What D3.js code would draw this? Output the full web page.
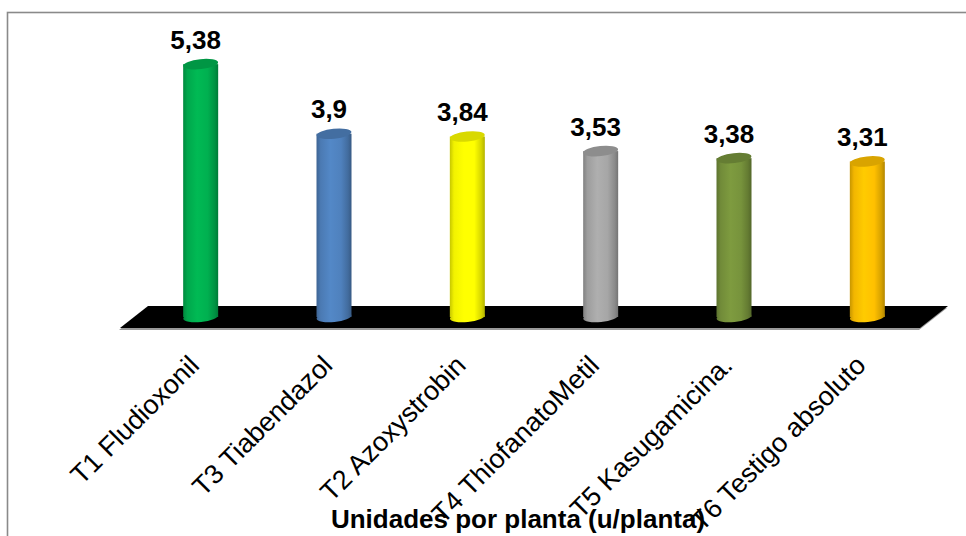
<!DOCTYPE html>
<html>
<head>
<meta charset="utf-8">
<script src="https://cdn.jsdelivr.net/npm/d3@7"></script>
<style>
  html, body { margin: 0; padding: 0; background: #fff; }
  svg { display: block; font-family: "Liberation Sans", Arial, sans-serif; }
</style>
</head>
<body>
<svg id="chart" width="966" height="536"></svg>
<script>
// Treatments and their values (units per plant)
const categories = ["T1 Fludioxonil", "T3 Tiabendazol", "T2 Azoxystrobin",
                    "T4 ThiofanatoMetil", "T5 Kasugamicina.", "T6 Testigo absoluto"];
const values = [5.38, 3.9, 3.84, 3.53, 3.38, 3.31];
const barColors = ["#00b050", "#4f81bd", "#ffff00", "#a6a6a6", "#77933c", "#ffc000"];
const axisTitle = "Unidades por planta (u/planta)";

const svg = d3.select("#chart");
const defs = svg.append("defs");

// Outer chart frame
svg.append("rect")
  .attr("x", 7.5).attr("y", 12.5)
  .attr("width", 1000).attr("height", 600)
  .attr("fill", "#fff")
  .attr("stroke", "#8a8a8a").attr("stroke-width", 1.6);

// Scales
const x = d3.scaleBand().domain(categories).range([134, 934]).padding(0);
const y = d3.scaleLinear().domain([0, 6]).range([317, 35]);
const barW = x.bandwidth() * 0.2625;
const rx = barW / 2, ry = 5, tilt = -6;

// Floor (black slab with a grey lower edge)
const floorTop = 306, floorBot = 328, depth = 28;
const x0 = x.range()[0], x1 = x.range()[1];
const floorPts = [[x0 + depth / 2, floorTop], [x1 + depth / 2, floorTop],
                  [x1 - depth / 2, floorBot], [x0 - depth / 2, floorBot]];
svg.append("polygon")
  .attr("points", floorPts.map(p => [p[0] - 1, p[1] + 2].join(",")).join(" "))
  .attr("fill", "#9a9a9a");
svg.append("polygon")
  .attr("points", floorPts.map(p => p.join(",")).join(" "))
  .attr("fill", "#000");

// Cylinder gradients
barColors.forEach((c, i) => {
  const base = d3.color(c);
  const g = defs.append("linearGradient").attr("id", "cyl" + i)
    .attr("x1", 0).attr("x2", 1).attr("y1", 0).attr("y2", 0);
  [[0, base.darker(0.7)], [0.12, base.darker(0.15)], [0.4, base.brighter(0.15)],
   [0.7, base], [0.9, base.darker(0.5)], [1, base.darker(1.0)]]
    .forEach(([o, col]) => g.append("stop").attr("offset", o).attr("stop-color", col.formatHex()));
});

// Cylindrical bars
const bars = svg.append("g");
categories.forEach((cat, i) => {
  const cx = x(cat) + x.bandwidth() / 2;
  const yt = y(values[i]), yb = y(0);
  const g = bars.append("g");
  g.append("ellipse")
    .attr("cx", cx).attr("cy", yb).attr("rx", rx).attr("ry", ry)
    .attr("transform", `rotate(${tilt},${cx},${yb})`)
    .attr("fill", `url(#cyl${i})`);
  g.append("rect")
    .attr("x", cx - rx).attr("y", yt).attr("width", barW).attr("height", yb - yt)
    .attr("fill", `url(#cyl${i})`);
  g.append("ellipse")
    .attr("cx", cx).attr("cy", yt).attr("rx", rx).attr("ry", ry)
    .attr("transform", `rotate(${tilt},${cx},${yt})`)
    .attr("fill", d3.color(barColors[i]).darker(0.45).formatHex());

  // Value label
  svg.append("text")
    .attr("x", cx - 5).attr("y", yt - 15.5)
    .attr("text-anchor", "middle")
    .attr("font-size", 26).attr("font-weight", "bold")
    .attr("fill", "#000")
    .text(String(values[i]).replace(".", ","));
});

// Rotated category labels
categories.forEach(cat => {
  const cx = x(cat) + x.bandwidth() / 2;
  svg.append("text")
    .attr("transform", `translate(${cx},367) rotate(-45)`)
    .attr("text-anchor", "end")
    .attr("font-size", 27)
    .attr("fill", "#000")
    .text(cat);
});

// Axis title
svg.append("text")
  .attr("x", 518).attr("y", 528)
  .attr("text-anchor", "middle")
  .attr("font-size", 26).attr("font-weight", "bold")
  .attr("fill", "#000")
  .text(axisTitle);
</script>
</body>
</html>
